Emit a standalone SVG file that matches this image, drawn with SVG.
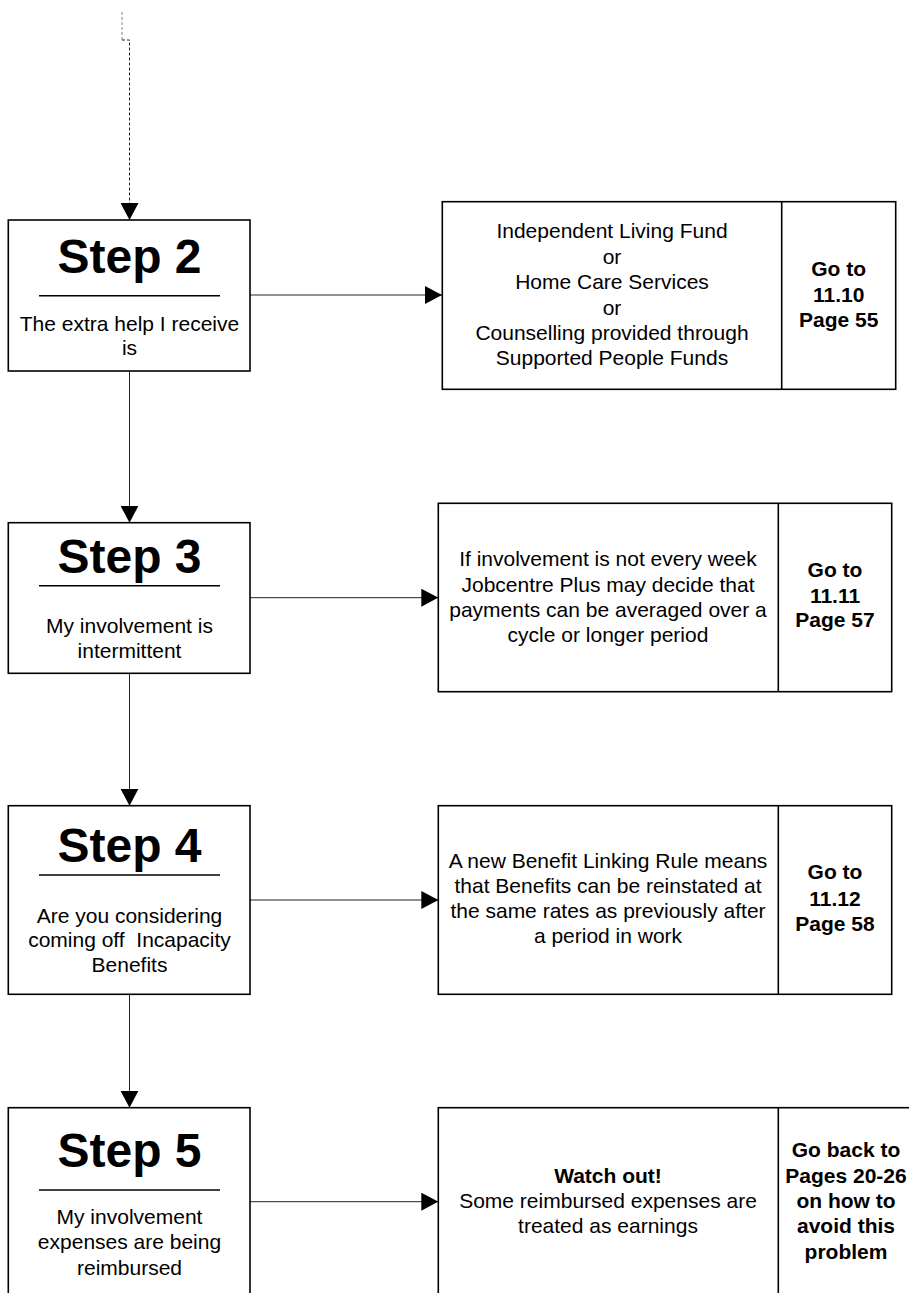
<svg xmlns="http://www.w3.org/2000/svg" width="909" height="1293" viewBox="0 0 909 1293">
<defs>
<style>
.box{fill:#fff;stroke:#000;stroke-width:1.6}
.div{stroke:#000;stroke-width:1.6}
.ul{stroke:#000;stroke-width:1.4}
.conn{fill:none;stroke:#222;stroke-width:1}
.t{font-family:"Liberation Sans",Arial,sans-serif;font-size:21px;fill:#000;text-anchor:middle}
.b{font-weight:bold}
.title{font-family:"Liberation Sans",Arial,sans-serif;font-size:48px;font-weight:bold;fill:#000;text-anchor:middle}
</style>
<marker id="arr" viewBox="0 0 17 18" refX="17" refY="9" markerWidth="17" markerHeight="18" orient="auto" markerUnits="userSpaceOnUse">
<path d="M0,0 L17,9 L0,18 z" fill="#000"/>
</marker>
</defs>
<rect width="909" height="1293" fill="#fff"/>
<g id="connectors">
<path d="M122,12 V40" fill="none" stroke="#888" stroke-width="1" stroke-dasharray="3,2"/>
<path d="M122,40 H129.5 V220" class="conn" stroke-dasharray="3,2" marker-end="url(#arr)"/>
<path d="M250,295 H442" class="conn" marker-end="url(#arr)"/>
<path d="M129.5,371 V522.7" class="conn" marker-end="url(#arr)"/>
<path d="M250,597.7 H438.3" class="conn" marker-end="url(#arr)"/>
<path d="M129.5,673.3 V805.7" class="conn" marker-end="url(#arr)"/>
<path d="M250,900 H438.3" class="conn" marker-end="url(#arr)"/>
<path d="M129.5,994.3 V1107.7" class="conn" marker-end="url(#arr)"/>
<path d="M250,1201.7 H438.3" class="conn" marker-end="url(#arr)"/>
</g>
<g id="step2">
<rect class="box" x="8.3" y="220" width="241.7" height="151"/>
<text class="title" x="129.5" y="272.7">Step 2</text>
<line class="ul" x1="39" y1="295.7" x2="220" y2="295.7"/>
<text class="t" x="129.5" y="331">The extra help I receive</text>
<text class="t" x="129.5" y="355">is</text>
</g>
<g id="info2">
<rect class="box" x="442.3" y="201.7" width="453.4" height="187.6"/>
<line class="div" x1="781.7" y1="201.7" x2="781.7" y2="389.3"/>
<text class="t" x="612" y="237.7">Independent Living Fund</text>
<text class="t" x="612" y="263.5">or</text>
<text class="t" x="612" y="289">Home Care Services</text>
<text class="t" x="612" y="314.7">or</text>
<text class="t" x="612" y="340">Counselling provided through</text>
<text class="t" x="612" y="365">Supported People Funds</text>
<text class="t b" x="838.7" y="276">Go to</text>
<text class="t b" x="838.7" y="301.7">11.10</text>
<text class="t b" x="838.7" y="326.7">Page 55</text>
</g>
<g id="step3">
<rect class="box" x="8.3" y="522.7" width="241.7" height="150.6"/>
<text class="title" x="129.5" y="572.7">Step 3</text>
<line class="ul" x1="39" y1="585.7" x2="220" y2="585.7"/>
<text class="t" x="129.5" y="632.7">My involvement is</text>
<text class="t" x="129.5" y="658.3">intermittent</text>
</g>
<g id="info3">
<rect class="box" x="438.3" y="503.3" width="453.4" height="188.4"/>
<line class="div" x1="778.3" y1="503.3" x2="778.3" y2="691.7"/>
<text class="t" x="608" y="566">If involvement is not every week</text>
<text class="t" x="608" y="591.7">Jobcentre Plus may decide that</text>
<text class="t" x="608" y="616.7">payments can be averaged over a</text>
<text class="t" x="608" y="641.7">cycle or longer period</text>
<text class="t b" x="835" y="577.3">Go to</text>
<text class="t b" x="835" y="602.7">11.11</text>
<text class="t b" x="835" y="627.3">Page 57</text>
</g>
<g id="step4">
<rect class="box" x="8.3" y="805.7" width="241.7" height="188.6"/>
<text class="title" x="129.5" y="861.7">Step 4</text>
<line class="ul" x1="39" y1="875" x2="220" y2="875"/>
<text class="t" x="129.5" y="922.7">Are you considering</text>
<text class="t" x="129.5" y="946.7" style="white-space:pre">coming off  Incapacity</text>
<text class="t" x="129.5" y="972.3">Benefits</text>
</g>
<g id="info4">
<rect class="box" x="438.3" y="805.7" width="453.4" height="188.6"/>
<line class="div" x1="778.3" y1="805.7" x2="778.3" y2="994.3"/>
<text class="t" x="608" y="867.7">A new Benefit Linking Rule means</text>
<text class="t" x="608" y="892.7">that Benefits can be reinstated at</text>
<text class="t" x="608" y="917.7">the same rates as previously after</text>
<text class="t" x="608" y="943.3">a period in work</text>
<text class="t b" x="835" y="879.3">Go to</text>
<text class="t b" x="835" y="905.7">11.12</text>
<text class="t b" x="835" y="931">Page 58</text>
</g>
<g id="step5">
<rect class="box" x="8.3" y="1107.7" width="241.7" height="200"/>
<text class="title" x="129.5" y="1166.7">Step 5</text>
<line class="ul" x1="39" y1="1190" x2="220" y2="1190"/>
<text class="t" x="129.5" y="1224.3">My involvement</text>
<text class="t" x="129.5" y="1249.3">expenses are being</text>
<text class="t" x="129.5" y="1275">reimbursed</text>
</g>
<g id="info5">
<rect class="box" x="438.3" y="1107.7" width="480" height="200"/>
<line class="div" x1="778.3" y1="1107.7" x2="778.3" y2="1307.7"/>
<text class="t b" x="608" y="1182.7">Watch out!</text>
<text class="t" x="608" y="1208.3">Some reimbursed expenses are</text>
<text class="t" x="608" y="1233.3">treated as earnings</text>
<text class="t b" x="846" y="1156.7">Go back to</text>
<text class="t b" x="846" y="1182.7">Pages 20-26</text>
<text class="t b" x="846" y="1208.3">on how to</text>
<text class="t b" x="846" y="1233.3">avoid this</text>
<text class="t b" x="846" y="1259.3">problem</text>
</g>
</svg>
